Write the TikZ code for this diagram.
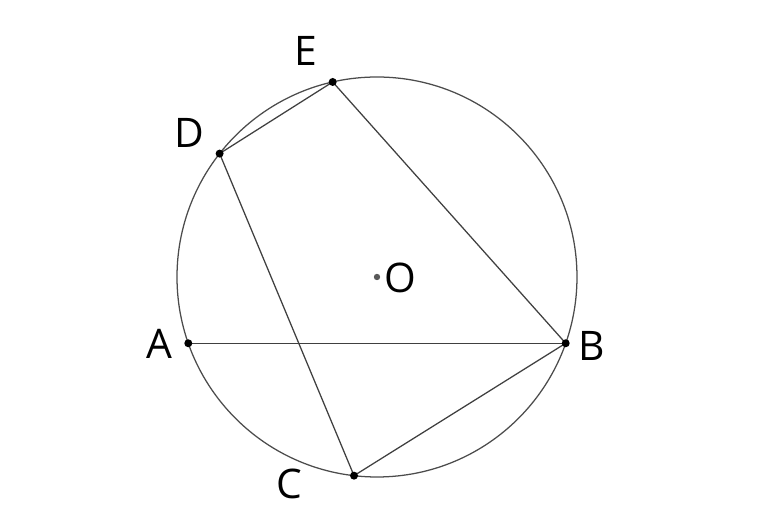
\documentclass[tikz,border=0pt]{standalone}
\usepackage{fontspec}
\setmainfont{Open Sans}
\begin{document}
\begin{tikzpicture}[
		seg/.style={black!75,line width=0.9pt},
		lbl/.style={inner sep=0pt,font=\fontsize{29}{34}\selectfont}
	]
			\useasboundingbox (-9.425,-6.075) rectangle (10.075,6.925);
			\coordinate (O) at (0,0);
			\coordinate (A) at (199.35:5);
			\coordinate (B) at (340.65:5);
			\coordinate (C) at (263.4:5);
			\coordinate (D) at (141.9:5);
			\coordinate (E) at (102.8:5);
			\draw[seg,black!70] (O) circle (5);
			\draw[seg] (E) -- (D);
			\draw[seg] (E) -- (B);
			\draw[seg] (D) -- (C);
			\draw[seg] (C) -- (B);
			\draw[seg] (A) -- (B);
			\foreach \p in {A,B,C,D,E} {
				\fill (\p) circle (0.1);
			}
			\fill[black!65] (O) circle (0.08);
			\node[lbl] (labE) at (-1.78,5.65) {E};
			\node[lbl] (labD) at (-4.68,3.6) {D};
			\node[lbl] (labA) at (-5.43,-1.68) {A};
			\node[lbl] (labB) at (5.38,-1.73) {B};
			\node[lbl] (labC) at (-2.18,-5.18) {C};
			\node[lbl] (labO) at (0.58,-0.03) {O};
	\end{tikzpicture}
\end{document}
